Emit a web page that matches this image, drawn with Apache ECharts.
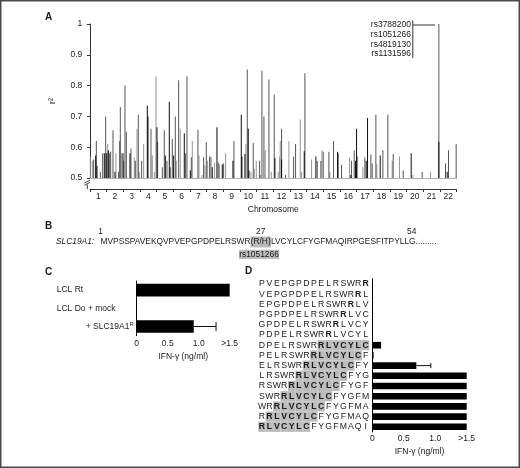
<!DOCTYPE html>
<html>
<head>
<meta charset="utf-8">
<script src="https://cdn.jsdelivr.net/npm/echarts@6/dist/echarts.min.js"></script>
<style>
html, body { margin: 0; padding: 0; background: #fff; }
#chart { width: 520px; height: 468px; }
</style>
</head>
<body>
<div id="chart"></div>
<script>
// Panel A: [position, r2], position in chromosome units (chr k = k-1 .. k)
var lightSnps = [[0.02,0.57],[0.14,0.556],[1.06,0.61],[1.56,0.58],[1.90,0.58],[2.66,0.567],[2.82,0.66],[2.96,0.52],
  [3.22,0.61],[3.74,0.573],[3.86,0.52],[3.96,0.83],[5.18,0.556],[5.42,0.66],[6.14,0.62],[6.54,0.573],[6.72,0.51],
  [6.90,0.54],[7.06,0.556],[7.48,0.55],[7.78,0.545],[8.14,0.58],[9.36,0.61],[9.66,0.52],[9.86,0.53],[9.98,0.556],
  [10.24,0.51],[10.52,0.59],[10.88,0.52],[11.30,0.52],[11.38,0.57],[11.42,0.62],[11.94,0.62],[12.62,0.69],[12.70,0.52],
  [13.30,0.56],[13.92,0.59],[14.40,0.52],[15.58,0.567],[16.06,0.57],[16.38,0.535],[17.22,0.545],[18.14,0.556],
  [18.58,0.57],[19.38,0.51],[20.44,0.52]];
var midSnps = [[0.22,0.56],[0.38,0.62],[0.62,0.52],[0.76,0.58],[0.94,0.70],[1.16,0.58],[1.24,0.585],[1.38,0.655],
  [1.72,0.52],[1.78,0.62],[1.82,0.73],[2.02,0.556],[2.10,0.80],[2.18,0.65],[2.46,0.595],[2.72,0.556],[2.90,0.705],
  [3.10,0.556],[3.66,0.66],[4.06,0.617],[4.34,0.535],[4.46,0.655],[4.62,0.556],[4.82,0.535],[4.94,0.627],[5.12,0.70],
  [5.32,0.817],[5.74,0.58],[5.82,0.83],[6.08,0.567],[6.48,0.657],[6.82,0.567],[6.98,0.617],[7.18,0.57],[7.26,0.567],
  [7.70,0.55],[8.02,0.547],[8.64,0.62],[9.44,0.852],[9.80,0.614],[10.18,0.556],[10.32,0.848],[10.44,0.70],[10.74,0.82],
  [11.06,0.77],[11.50,0.66],[11.74,0.51],[12.22,0.57],[12.34,0.61],[12.90,0.84],[13.64,0.555],[13.86,0.555],[14.00,0.585],
  [14.34,0.585],[14.62,0.62],[14.90,0.58],[15.10,0.543],[15.70,0.556],[15.86,0.59],[16.50,0.567],[16.86,0.576],
  [16.94,0.547],[17.16,0.705],[17.58,0.59],[17.88,0.705],[18.20,0.578],[18.80,0.524],[19.94,0.52],[20.94,1.0],
  [21.34,0.547],[21.52,0.59],[21.98,0.61]];
var darkSnps = [[0.34,0.573],[0.42,0.54],[0.86,0.58],[1.00,0.58],[1.10,0.59],[1.50,0.52],[1.98,0.58],[2.40,0.58],
  [3.44,0.735],[3.48,0.70],[4.02,0.665],[4.52,0.573],[4.76,0.747],[5.02,0.573],[5.66,0.645],[6.02,0.525],[7.34,0.535],
  [7.62,0.665],[7.94,0.545],[8.58,0.556],[9.08,0.705],[9.12,0.57],[9.30,0.578],[9.50,0.66],[9.54,0.524],[11.10,0.565],
  [11.50,0.56],[12.86,0.587],[13.56,0.57],[14.86,0.585],[15.66,0.51],[15.94,0.556],[16.00,0.66],[16.58,0.556],
  [16.66,0.695],[17.42,0.573],[19.28,0.58],[20.94,0.617],[21.44,0.52]];
var chromosomes = ['1','2','3','4','5','6','7','8','9','10','11','12','13','14','15','16','17','18','19','20','21','22'];
var rsLabels = ['rs3788200', 'rs1051266', 'rs4819130', 'rs1131596'];

// Panel B
var seqBefore = 'MVPSSPAVEKQVPVEPGPDPELRSWR';
var seqVariant = '(R/H)';
var seqAfter = 'LVCYLCFYGFMAQIRPGESFITPYLLG.........';

// Panel C
var cLabels = ['LCL Rt', 'LCL Do + mock', '+ SLC19A1R'];
var cValues = [1.5, 0, 0.92];
var cErrors = [[0.92, 1.28, 2]];

// Panel D
var peptides = ['PVEPGPDPELRSWRR','VEPGPDPELRSWRRL','EPGPDPELRSWRRLV','PGPDPELRSWRRLVC','GPDPELRSWRRLVCY',
  'PDPELRSWRRLVCYL','DPELRSWRRLVCYLC','PELRSWRRLVCYLCF','ELRSWRRLVCYLCFY','LRSWRRLVCYLCFYG',
  'RSWRRLVCYLCFYGF','SWRRLVCYLCFYGFM','WRRLVCYLCFYGFMA','RRLVCYLCFYGFMAQ','RLVCYLCFYGFMAQI'];
var dValues = [0, 0, 0, 0, 0, 0, 0.14, 0.02, 0.70, 1.5, 1.5, 1.5, 1.5, 1.5, 1.5];
var dErrors = [[0.70, 0.93, 8]];

var FONT = 'Liberation Sans, Arial, sans-serif';
var INK = '#1a1a1a';

function ifnLabel(v) {
    if (v === 0) return '0';
    if (v >= 1.5) return '>1.5';
    return v.toFixed(1);
}

// bold the R/H residue, grey-box the RLVCYLC epitope
function pepLabel(pep, i) {
    var r = 14 - i;
    var s = '';
    for (var k = 0; k < pep.length; k++) {
        var st = 'n';
        if (i < 6) { if (k === r) st = 'b'; }
        else if (k >= r && k <= r + 6) st = 'g';
        s += '{' + st + '|' + pep[k] + '}';
    }
    return s;
}

function errorBar(params, api) {
    var lo = api.coord([api.value(0), api.value(2)]);
    var hi = api.coord([api.value(1), api.value(2)]);
    var h = api.size([0, 1])[1] * 0.25;
    var st = { stroke: '#111', lineWidth: 1 };
    return {
        type: 'group',
        children: [
            { type: 'line', shape: { x1: lo[0], y1: lo[1], x2: hi[0], y2: hi[1] }, style: st },
            { type: 'line', shape: { x1: hi[0], y1: hi[1] - h, x2: hi[0], y2: hi[1] + h }, style: st }
        ]
    };
}

function txt(x, y, text, o) {
    o = o || {};
    return {
        type: 'text', x: x, y: y, silent: true,
        style: {
            text: text, fill: INK, fontFamily: FONT,
            fontSize: o.size || 8.5, fontWeight: o.bold ? 'bold' : 'normal',
            fontStyle: o.italic ? 'italic' : 'normal',
            align: o.align || 'left', verticalAlign: 'middle'
        }
    };
}

function line(x1, y1, x2, y2, w, c) {
    return { type: 'line', silent: true, z: 10, shape: { x1: x1, y1: y1, x2: x2, y2: y2 },
        style: { stroke: c || '#333', lineWidth: w || 1 } };
}

var pepCell = { width: 7.4, align: 'center', height: 10.2, lineHeight: 10.2,
    fontSize: 8.7, fontFamily: FONT, color: INK };

var chart = echarts.init(document.getElementById('chart'));

var option = {
    animation: false,
    backgroundColor: '#fff',
    textStyle: { fontFamily: FONT, color: INK },
    grid: [
        { left: 90, top: 24, width: 366.5, height: 154, outerBoundsMode: 'none' },
        { left: 136.7, top: 281, width: 93, height: 54.6, outerBoundsMode: 'none' },
        { left: 372.3, top: 278.9, width: 94.4, height: 153, outerBoundsMode: 'none' }
    ],
    xAxis: [
        { type: 'value', gridIndex: 0, min: 0, max: 22, position: 'bottom',
          axisLine: { show: true, lineStyle: { color: '#b0b0b0', width: 1 } },
          axisTick: { show: false }, axisLabel: { show: false }, splitLine: { show: false } },
        { type: 'category', gridIndex: 0, data: chromosomes, position: 'bottom', offset: 11,
          axisLine: { lineStyle: { color: '#333', width: 1 } },
          axisTick: { show: true, length: 3, lineStyle: { color: '#333' } },
          axisLabel: { interval: 0, margin: 3, fontSize: 8.5, color: INK },
          name: 'Chromosome', nameLocation: 'middle', nameGap: 16,
          nameTextStyle: { fontSize: 8.5, color: INK } },
        { type: 'value', gridIndex: 1, min: 0, max: 1.5, interval: 0.5,
          axisLine: { show: false }, axisTick: { show: false }, splitLine: { show: false },
          axisLabel: { margin: 4, fontSize: 8.5, color: INK, formatter: ifnLabel },
          name: 'IFN-γ (ng/ml)', nameLocation: 'middle', nameGap: 17,
          nameTextStyle: { fontSize: 8.5, color: INK } },
        { type: 'value', gridIndex: 2, min: 0, max: 1.5, interval: 0.5,
          axisLine: { show: false }, axisTick: { show: false }, splitLine: { show: false },
          axisLabel: { margin: 2, fontSize: 8.5, color: INK, formatter: ifnLabel },
          name: 'IFN-γ (ng/ml)', nameLocation: 'middle', nameGap: 15,
          nameTextStyle: { fontSize: 8.5, color: INK } }
    ],
    yAxis: [
        { type: 'value', gridIndex: 0, min: 0.5, max: 1, interval: 0.1, offset: 2.7,
          axisLine: { show: true, lineStyle: { color: '#333', width: 1 } },
          axisTick: { show: true, length: 3, lineStyle: { color: '#333' } },
          splitLine: { show: false },
          axisLabel: { margin: 5, fontSize: 8.5, color: INK,
              formatter: function (v) { return v === 1 ? '1' : v.toFixed(1); } },
          name: 'r²', nameLocation: 'middle', nameRotate: 90, nameGap: 30,
          nameTextStyle: { fontSize: 9, color: INK } },
        { type: 'category', gridIndex: 1, data: cLabels, inverse: true,
          axisLine: { lineStyle: { color: '#000', width: 1 } }, axisTick: { show: false },
          axisLabel: { interval: 0, align: 'left', margin: 80, fontSize: 8.5, color: INK,
              formatter: function (v, i) {
                  return i === 2 ? '{sp|}+ SLC19A1{sup|R}' : v;
              },
              rich: { sp: { width: 29 }, sup: { fontSize: 6, padding: [0, 0, 5, 0], color: INK } } } },
        { type: 'category', gridIndex: 2, data: peptides, inverse: true,
          axisLine: { lineStyle: { color: '#000', width: 1 } }, axisTick: { show: false },
          axisLabel: { interval: 0, margin: 3,
              formatter: function (v, i) { return pepLabel(v, i); },
              rich: {
                  n: pepCell,
                  b: Object.assign({}, pepCell, { fontWeight: 'bold' }),
                  g: Object.assign({}, pepCell, { fontWeight: 'bold', backgroundColor: '#bcbcbc' })
              } } }
    ],
    series: [
        { type: 'bar', xAxisIndex: 0, yAxisIndex: 0, data: lightSnps, barWidth: 1, barGap: '-100%',
          itemStyle: { color: '#959595' } },
        { type: 'bar', xAxisIndex: 0, yAxisIndex: 0, data: midSnps, barWidth: 1, barGap: '-100%',
          itemStyle: { color: '#555' } },
        { type: 'bar', xAxisIndex: 0, yAxisIndex: 0, data: darkSnps, barWidth: 1, barGap: '-100%',
          itemStyle: { color: '#0d0d0d' } },
        { type: 'bar', xAxisIndex: 2, yAxisIndex: 1, data: cValues, barCategoryGap: '30%',
          itemStyle: { color: '#000' } },
        { type: 'custom', xAxisIndex: 2, yAxisIndex: 1, data: cErrors, renderItem: errorBar,
          encode: { x: [0, 1], y: 2 }, z: 5 },
        { type: 'bar', xAxisIndex: 3, yAxisIndex: 2, data: dValues, barCategoryGap: '35%',
          itemStyle: { color: '#000' } },
        { type: 'custom', xAxisIndex: 3, yAxisIndex: 2, data: dErrors, renderItem: errorBar,
          encode: { x: [0, 1], y: 2 }, z: 5 }
    ]
};
chart.setOption(option);

// annotations and panel B text
var g = [
    { type: 'rect', silent: true, shape: { x: 0.75, y: 0.75, width: 518.5, height: 466.5 },
      style: { fill: 'none', stroke: '#4a4a4a', lineWidth: 1.5 } },
    txt(45, 17, 'A', { bold: true, size: 10 }),
    txt(45, 226, 'B', { bold: true, size: 10 }),
    txt(45, 272, 'C', { bold: true, size: 10 }),
    txt(245, 271, 'D', { bold: true, size: 10 }),
    line(412.8, 20.5, 412.8, 58),
    line(412.8, 25, 435, 25),
    // axis break
    { type: 'rect', silent: true, shape: { x: 85, y: 179, width: 5, height: 6 }, style: { fill: '#fff' } },
    line(84.5, 183, 90, 180.2, 0.9),
    line(84.5, 185.2, 90, 182.4, 0.9),
    line(87.3, 184.5, 87.3, 189, 1),
    txt(100.5, 231.5, '1', { align: 'center', size: 8.4 }),
    txt(260.7, 231.5, '27', { align: 'center', size: 8.4 }),
    txt(411.7, 231.5, '54', { align: 'center', size: 8.4 }),
    txt(56, 242, 'SLC19A1:', { italic: true, size: 8.4 }),
    { type: 'rect', silent: true, shape: { x: 250.5, y: 236.5, width: 20.5, height: 11 }, style: { fill: '#bcbcbc' } },
    txt(250.5, 242, seqBefore, { align: 'right', size: 8.4 }),
    txt(260.7, 242, seqVariant, { align: 'center', size: 8.4 }),
    txt(271, 242, seqAfter, { size: 8.4 }),
    { type: 'rect', silent: true, shape: { x: 239, y: 249.8, width: 40, height: 9.2 }, style: { fill: '#bcbcbc' } },
    txt(259, 254.6, 'rs1051266', { align: 'center', size: 8.4 })
];
rsLabels.forEach(function (t, i) {
    g.push(txt(411, 25 + i * 9.7, t, { align: 'right' }));
});
chart.setOption({ graphic: g });
</script>
</body>
</html>
